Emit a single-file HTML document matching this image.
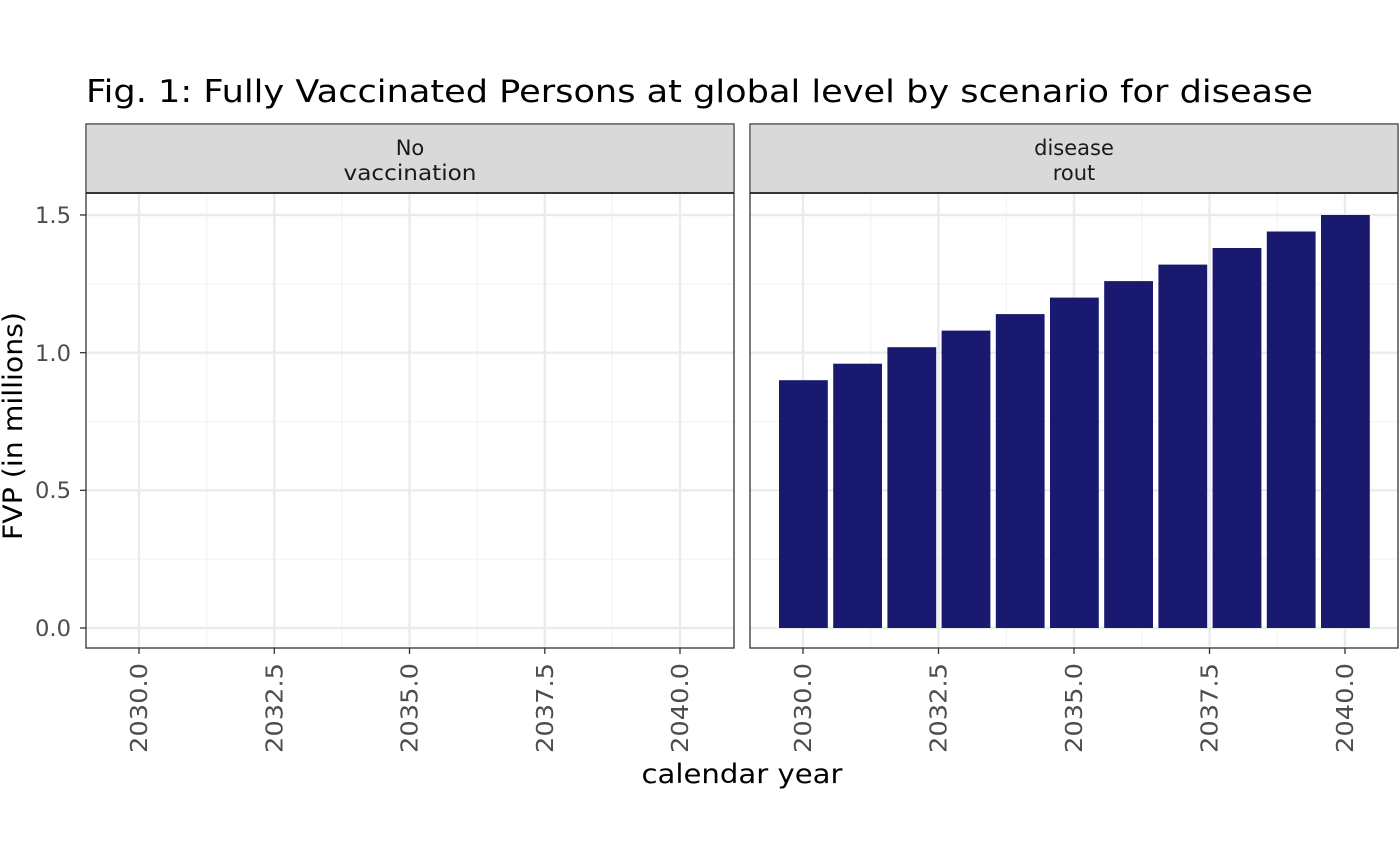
<!DOCTYPE html>
<html><head><style>body{margin:0;background:#fff}svg{display:block}</style></head><body>
<svg width="1400" height="865" xmlns="http://www.w3.org/2000/svg" font-family="DejaVu Sans, sans-serif">
<rect width="1400" height="865" fill="#fff"/>
<text x="86" y="102" font-size="31" fill="#000" textLength="1227" lengthAdjust="spacingAndGlyphs">Fig. 1: Fully Vaccinated Persons at global level by scenario for disease</text>
<g id="grid">
<g stroke="#f3f3f3" stroke-width="1.2">
<line x1="86" x2="734" y1="559.2" y2="559.2"/><line x1="86" x2="734" y1="421.5" y2="421.5"/><line x1="86" x2="734" y1="283.8" y2="283.8"/>
<line x1="750" x2="1398" y1="559.2" y2="559.2"/><line x1="750" x2="1398" y1="421.5" y2="421.5"/><line x1="750" x2="1398" y1="283.8" y2="283.8"/>
<line y1="193" y2="648" x1="206.6" x2="206.6"/><line y1="193" y2="648" x1="341.9" x2="341.9"/><line y1="193" y2="648" x1="477.2" x2="477.2"/><line y1="193" y2="648" x1="612.4" x2="612.4"/>
<line y1="193" y2="648" x1="870.8" x2="870.8"/><line y1="193" y2="648" x1="1006.3" x2="1006.3"/><line y1="193" y2="648" x1="1141.8" x2="1141.8"/><line y1="193" y2="648" x1="1277.3" x2="1277.3"/>
</g>
<g stroke="#ebebeb" stroke-width="2.4">
<line x1="86" x2="734" y1="628" y2="628"/><line x1="86" x2="734" y1="490.3" y2="490.3"/><line x1="86" x2="734" y1="352.7" y2="352.7"/><line x1="86" x2="734" y1="215" y2="215"/>
<line x1="750" x2="1398" y1="628" y2="628"/><line x1="750" x2="1398" y1="490.3" y2="490.3"/><line x1="750" x2="1398" y1="352.7" y2="352.7"/><line x1="750" x2="1398" y1="215" y2="215"/>
<line y1="193" y2="648" x1="139" x2="139"/><line y1="193" y2="648" x1="274.3" x2="274.3"/><line y1="193" y2="648" x1="409.5" x2="409.5"/><line y1="193" y2="648" x1="544.8" x2="544.8"/><line y1="193" y2="648" x1="680" x2="680"/>
<line y1="193" y2="648" x1="803" x2="803"/><line y1="193" y2="648" x1="938.5" x2="938.5"/><line y1="193" y2="648" x1="1074" x2="1074"/><line y1="193" y2="648" x1="1209.5" x2="1209.5"/><line y1="193" y2="648" x1="1345" x2="1345"/>
</g>
</g>
<g fill="#191970">
<rect x="779" y="380.2" width="48.8" height="247.8"/>
<rect x="833.2" y="363.7" width="48.8" height="264.3"/>
<rect x="887.4" y="347.2" width="48.8" height="280.8"/>
<rect x="941.6" y="330.6" width="48.8" height="297.4"/>
<rect x="995.8" y="314.1" width="48.8" height="313.9"/>
<rect x="1050" y="297.6" width="48.8" height="330.4"/>
<rect x="1104.2" y="281.1" width="48.8" height="346.9"/>
<rect x="1158.4" y="264.6" width="48.8" height="363.4"/>
<rect x="1212.6" y="248" width="48.8" height="380"/>
<rect x="1266.8" y="231.5" width="48.8" height="396.5"/>
<rect x="1321" y="215" width="48.8" height="413"/>
</g>
<g fill="none" stroke="#333" stroke-width="1.3">
<rect x="86" y="124" width="648" height="524"/>
<rect x="750" y="124" width="648" height="524"/>
</g>
<rect x="86.6" y="124.6" width="646.8" height="68" fill="#d9d9d9"/>
<rect x="750.6" y="124.6" width="646.8" height="68" fill="#d9d9d9"/>
<line x1="86" x2="734" y1="193" y2="193" stroke="#333" stroke-width="2"/>
<line x1="750" x2="1398" y1="193" y2="193" stroke="#333" stroke-width="2"/>
<g font-size="21" fill="#1a1a1a" text-anchor="middle">
<text x="410" y="155">No</text><text x="410" y="180" textLength="133" lengthAdjust="spacingAndGlyphs">vaccination</text>
<text x="1074" y="155">disease</text><text x="1074" y="180">rout</text>
</g>
<g stroke="#333" stroke-width="1.3">
<line x1="80" x2="86" y1="628" y2="628"/><line x1="80" x2="86" y1="490.3" y2="490.3"/><line x1="80" x2="86" y1="352.7" y2="352.7"/><line x1="80" x2="86" y1="215" y2="215"/>
<line y1="648" y2="654" x1="139" x2="139"/><line y1="648" y2="654" x1="274.3" x2="274.3"/><line y1="648" y2="654" x1="409.5" x2="409.5"/><line y1="648" y2="654" x1="544.8" x2="544.8"/><line y1="648" y2="654" x1="680" x2="680"/>
<line y1="648" y2="654" x1="803" x2="803"/><line y1="648" y2="654" x1="938.5" x2="938.5"/><line y1="648" y2="654" x1="1074" x2="1074"/><line y1="648" y2="654" x1="1209.5" x2="1209.5"/><line y1="648" y2="654" x1="1345" x2="1345"/>
</g>
<g font-size="22" fill="#4d4d4d" text-anchor="end">
<text x="71" y="636" textLength="36" lengthAdjust="spacingAndGlyphs">0.0</text><text x="71" y="498" textLength="36" lengthAdjust="spacingAndGlyphs">0.5</text><text x="71" y="361" textLength="36" lengthAdjust="spacingAndGlyphs">1.0</text><text x="71" y="223" textLength="36" lengthAdjust="spacingAndGlyphs">1.5</text>
</g>
<g font-size="23" fill="#4d4d4d" text-anchor="end">
<text transform="translate(147,663) rotate(-90)" textLength="90" lengthAdjust="spacingAndGlyphs">2030.0</text>
<text transform="translate(282.3,663) rotate(-90)" textLength="90" lengthAdjust="spacingAndGlyphs">2032.5</text>
<text transform="translate(417.5,663) rotate(-90)" textLength="90" lengthAdjust="spacingAndGlyphs">2035.0</text>
<text transform="translate(552.8,663) rotate(-90)" textLength="90" lengthAdjust="spacingAndGlyphs">2037.5</text>
<text transform="translate(688,663) rotate(-90)" textLength="90" lengthAdjust="spacingAndGlyphs">2040.0</text>
<text transform="translate(811,663) rotate(-90)" textLength="90" lengthAdjust="spacingAndGlyphs">2030.0</text>
<text transform="translate(946.5,663) rotate(-90)" textLength="90" lengthAdjust="spacingAndGlyphs">2032.5</text>
<text transform="translate(1082,663) rotate(-90)" textLength="90" lengthAdjust="spacingAndGlyphs">2035.0</text>
<text transform="translate(1217.5,663) rotate(-90)" textLength="90" lengthAdjust="spacingAndGlyphs">2037.5</text>
<text transform="translate(1353,663) rotate(-90)" textLength="90" lengthAdjust="spacingAndGlyphs">2040.0</text>
</g>
<text x="742" y="783" font-size="27" text-anchor="middle" fill="#000" textLength="201" lengthAdjust="spacingAndGlyphs">calendar year</text>
<text transform="translate(22,426) rotate(-90)" font-size="27" text-anchor="middle" fill="#000" textLength="228" lengthAdjust="spacingAndGlyphs">FVP (in millions)</text>
</svg>
</body></html>
